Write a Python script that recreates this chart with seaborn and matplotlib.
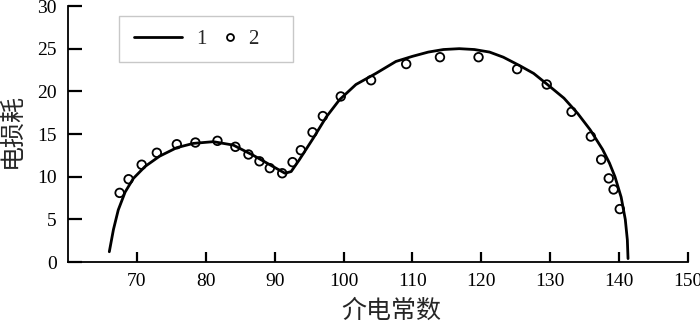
import numpy as np
import pandas as pd
import matplotlib
matplotlib.use('Agg')
import matplotlib.pyplot as plt
from matplotlib.lines import Line2D
from matplotlib.patches import Rectangle
from matplotlib.legend_handler import HandlerLine2D
import seaborn as sns

sns.set_style('ticks')
plt.rcParams['font.family'] = ['Liberation Serif', 'Noto Sans CJK SC', 'DejaVu Sans']
plt.rcParams['axes.unicode_minus'] = False
plt.rcParams['axes.axisbelow'] = False

# 曲线1：计算结果
curve_x = [66.0, 66.6, 67.3, 68.3, 69.5, 71.2, 73.3, 75.8, 78.2, 81.1, 84.0, 86.9,
           89.3, 91.5, 92.4, 93.6, 95.6, 97.5, 99.4, 101.8, 104.7, 107.6, 110.0,
           112.3, 114.5, 116.8, 119.0, 121.2, 123.2, 125.6, 127.6, 129.6, 132.0,
           134.0, 135.8, 137.6, 138.6, 139.4, 140.3, 140.9, 141.2, 141.3]
curve_y = [1.2, 3.8, 6.1, 8.2, 9.8, 11.2, 12.4, 13.4, 13.9, 14.1, 13.7, 12.5,
           11.4, 10.4, 10.6, 12.0, 14.5, 17.0, 19.0, 20.8, 22.1, 23.5, 24.1,
           24.6, 24.9, 25.0, 24.9, 24.6, 24.0, 23.0, 22.1, 20.8, 19.2,
           17.4, 15.5, 13.2, 11.6, 10.0, 7.6, 5.0, 2.6, 0.4]

# 系列2：实测点
pts_x = [67.5, 68.8, 70.7, 72.9, 75.8, 78.5, 81.7, 84.3, 86.2, 87.8, 89.3, 91.1,
         92.6, 93.8, 95.5, 97.0, 99.6, 104.0, 109.1, 114.0, 119.6, 125.2, 129.5,
         133.1, 135.9, 137.4, 138.5, 139.2, 140.1]
pts_y = [8.1, 9.7, 11.4, 12.8, 13.8, 14.0, 14.2, 13.5, 12.6, 11.8, 11.0, 10.4,
         11.7, 13.1, 15.2, 17.1, 19.4, 21.3, 23.2, 24.0, 24.0, 22.6, 20.8,
         17.6, 14.7, 12.0, 9.8, 8.5, 6.2]

x_ticks = [70, 80, 90, 100, 110, 120, 130, 140, 150]
y_ticks = [0, 5, 10, 15, 20, 25, 30]

df_curve = pd.DataFrame({'x': curve_x, 'y': curve_y})
df_pts = pd.DataFrame({'x': pts_x, 'y': pts_y})

fig = plt.figure(figsize=(7, 3.21), dpi=100)
ax = fig.add_axes([0.0971, 0.1838, 0.8857, 0.7975])

sns.lineplot(data=df_curve, x='x', y='y', sort=False, color='black', lw=2.0, ax=ax)
sns.scatterplot(data=df_pts, x='x', y='y', marker='o', s=38, facecolor='none',
                edgecolor='black', linewidth=1.3, ax=ax, zorder=3)

ax.set_xlim(60, 150)
ax.set_ylim(0, 30)
ax.set_xticks(x_ticks)
ax.set_yticks(y_ticks)
ax.tick_params(axis='x', which='major', bottom=True, top=False, direction='in',
               length=7, width=1.6, pad=8, labelsize=14, color='black',
               labelcolor='black')
ax.tick_params(axis='y', which='major', left=True, right=False, direction='in',
               length=10, width=1.6, pad=8, labelsize=14, color='black',
               labelcolor='black')
sns.despine(ax=ax)
for s in ['left', 'bottom']:
    ax.spines[s].set_linewidth(1.3)
    ax.spines[s].set_color('black')

ax.set_xlabel('介电常数', fontsize=18)
ax.set_ylabel('电损耗', fontsize=18)
ax.xaxis.set_label_coords(0.521, -0.145)
ax.yaxis.set_label_coords(-0.071, 0.512)

# 图例框
ax.add_patch(Rectangle((0.0823, 0.781), 0.2806, 0.18, transform=ax.transAxes,
                       facecolor='white', edgecolor='#c8c8c8', lw=1.0, zorder=4))
line_h = Line2D([], [], color='black', lw=2.0)
pt_h = Line2D([], [], color='black', marker='o', ls='none', markersize=5,
              markerfacecolor='none', markeredgewidth=1.3)
leg = ax.legend([line_h, pt_h], ['1', '2'], ncol=2, loc='center left',
                bbox_to_anchor=(0.1065, 0.871), borderaxespad=0, borderpad=0,
                fontsize=15, handlelength=2.3, handletextpad=0.7,
                columnspacing=-1.0, frameon=False,
                handler_map={pt_h: HandlerLine2D(xpad=1.9)})
leg.set_zorder(5)

fig.savefig('out.png', dpi=100)
